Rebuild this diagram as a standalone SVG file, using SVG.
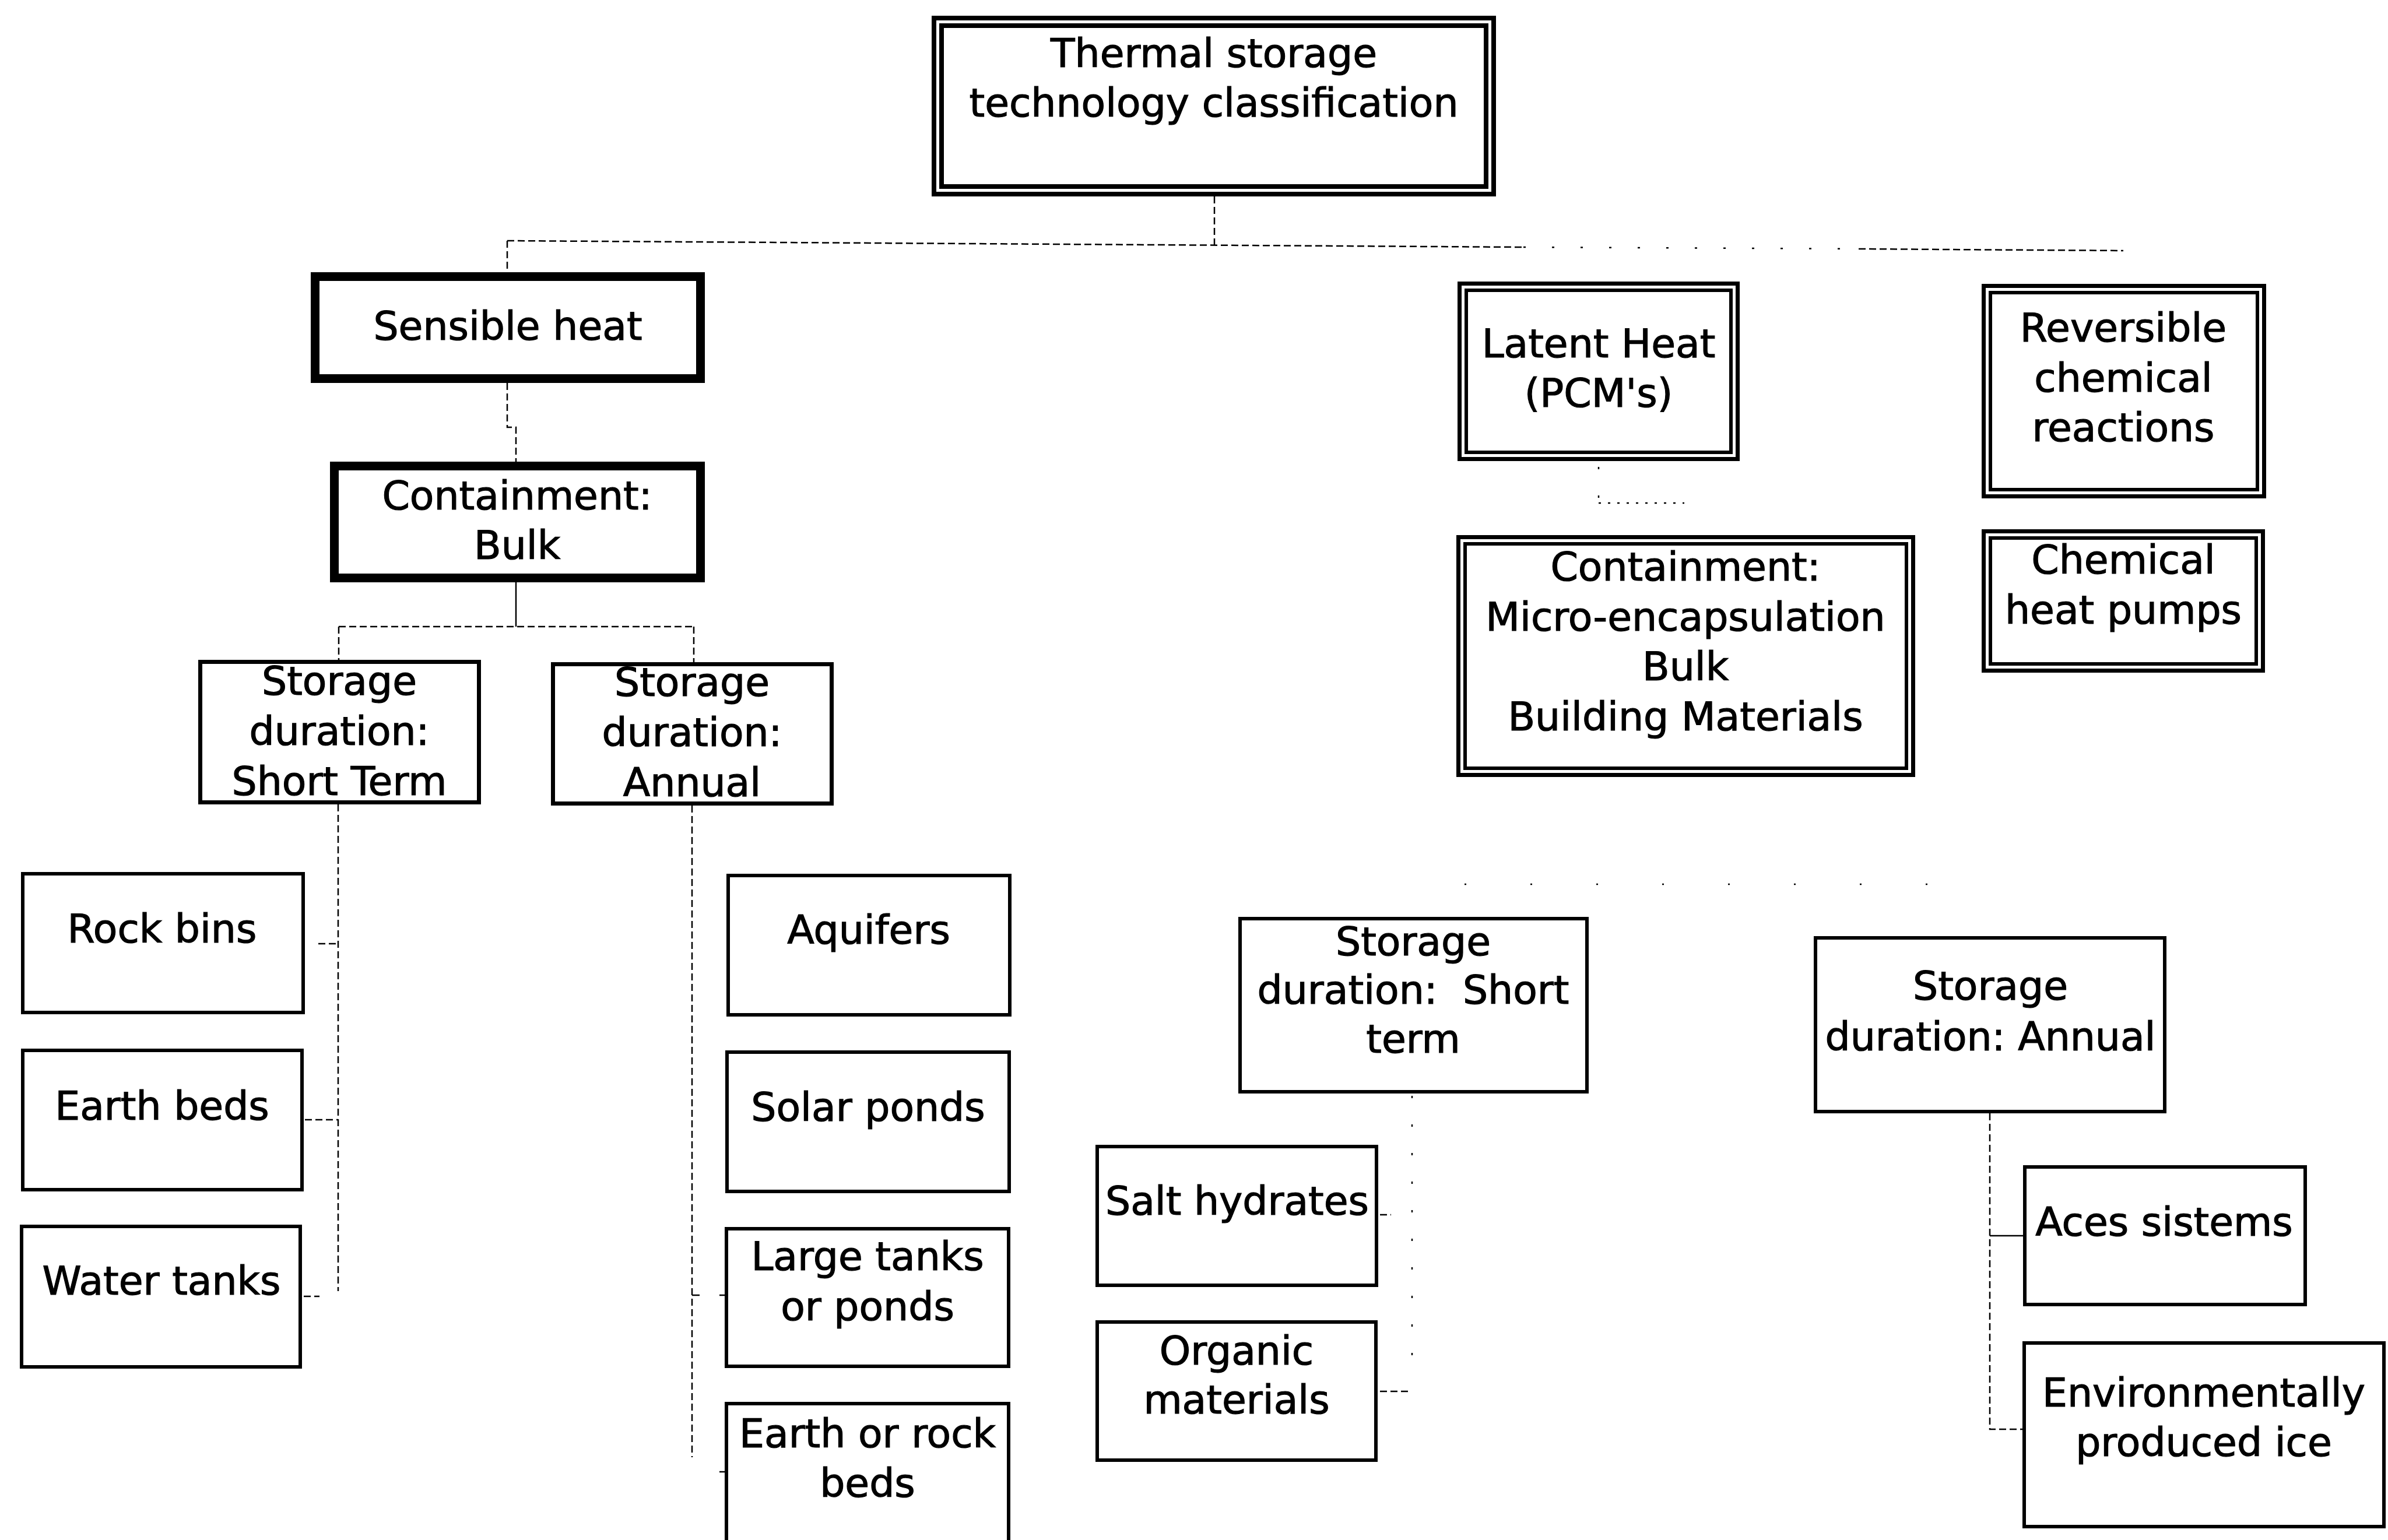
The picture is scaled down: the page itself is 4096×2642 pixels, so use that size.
<svg xmlns="http://www.w3.org/2000/svg" width="4096" height="2642" viewBox="0 0 4096 2642">
<style>
  .bg { fill: #ffffff; }
  .box { fill: none; stroke: #000; stroke-width: 6; }
  .sd { fill: none; stroke: #000; stroke-width: 7; }
  .thick { fill: none; stroke: #000; stroke-width: 15; }
  .dbo { fill: none; stroke: #000; stroke-width: 7; }
  .dbi { fill: none; stroke: #000; stroke-width: 6; }
  .tbo { fill: none; stroke: #000; stroke-width: 8; }
  text { font-family: "DejaVu Sans", "Liberation Sans", sans-serif; font-size: 68px; text-anchor: middle; fill: #000; stroke: #000; stroke-width: 1.2; white-space: pre; }
  .c { fill: none; stroke: #000; stroke-width: 2.5; }
  .dash { stroke-dasharray: 12 6; }
  .dot { stroke-dasharray: 4 12; }
  .sparse { stroke-dasharray: 4 45; }
  .faint { stroke-dasharray: 3 110; }
  .solid { }
</style>
<rect class="bg" x="0" y="0" width="4096" height="2642"/>

<g id="connectors">
  <path class="c dash" d="M2083 337 L2083 420"/>
  <path class="c dash" d="M870 413 L2613 424"/>
  <path class="c sparse" d="M2613 424 L3188 427"/>
  <path class="c dash" d="M3188 427 L3642 430"/>
  <path class="c dash" d="M870 413 L870 467"/>
  <path class="c dash" d="M870 657 L870 733 L885 733 L885 792"/>
  <path class="c solid" d="M885 999 L885 1075"/>
  <path class="c dash" d="M581 1075 L1190 1075"/>
  <path class="c dash" d="M581 1075 L581 1132"/>
  <path class="c dash" d="M1190 1075 L1190 1136"/>
  <path class="c dash" d="M580 1380 L580 2215"/>
  <path class="c dash" d="M546 1619 L580 1619"/>
  <path class="c dash" d="M523 1921 L580 1921"/>
  <path class="c dash" d="M521 2224 L548 2224"/>
  <path class="c dash" d="M1187 1382 L1187 2500"/>
  <path class="c solid" d="M1187 2222 L1200 2222"/>
  <path class="c solid" d="M1234 2222 L1244 2222"/>
  <path class="c solid" d="M1234 2525 L1244 2525"/>
  <path class="c sparse" d="M2742 801 L2742 863"/>
  <path class="c dot" d="M2742 863 L2889 863"/>
  <path class="c faint" d="M2512 1517 L3378 1517"/>
  <path class="c sparse" d="M2422 1880 L2422 2340"/>
  <path class="c dash" d="M2367 2084 L2386 2084"/>
  <path class="c dash" d="M2367 2387 L2416 2387"/>
  <path class="c dash" d="M3413 1910 L3413 2452 L3469 2452"/>
  <path class="c solid" d="M3413 2120 L3470 2120"/>
</g>

<g id="n-top">
  <rect class="tbo" x="1602" y="31" width="960" height="302"/>
  <rect class="tbo" x="1615" y="44" width="934" height="276"/>
  <text x="2082" y="115">Thermal storage</text>
  <text x="2082" y="200">technology classification</text>
</g>

<g id="n-sensible">
  <rect class="thick" x="540.5" y="474.5" width="661" height="175"/>
  <text x="871" y="583">Sensible heat</text>
</g>

<g id="n-containment-bulk">
  <rect class="thick" x="573.5" y="799.5" width="628" height="192"/>
  <text x="887" y="874">Containment:</text>
  <text x="887" y="959">Bulk</text>
</g>

<g id="n-sens-short">
  <rect class="sd" x="343.5" y="1135.5" width="478" height="241"/>
  <text x="582" y="1192">Storage</text>
  <text x="582" y="1278">duration:</text>
  <text x="582" y="1364">Short Term</text>
</g>

<g id="n-sens-annual">
  <rect class="sd" x="948.5" y="1139.5" width="478" height="239"/>
  <text x="1187" y="1194">Storage</text>
  <text x="1187" y="1280">duration:</text>
  <text x="1187" y="1366">Annual</text>
</g>

<g id="n-rock-bins">
  <rect class="box" x="39" y="1499" width="481" height="238"/>
  <text x="278" y="1617">Rock bins</text>
</g>
<g id="n-earth-beds">
  <rect class="box" x="39" y="1802" width="479" height="239"/>
  <text x="278" y="1921">Earth beds</text>
</g>
<g id="n-water-tanks">
  <rect class="box" x="37" y="2104" width="478" height="241"/>
  <text x="277" y="2221">Water tanks</text>
</g>

<g id="n-aquifers">
  <rect class="box" x="1249" y="1502" width="483" height="239"/>
  <text x="1490" y="1619">Aquifers</text>
</g>
<g id="n-solar-ponds">
  <rect class="box" x="1247" y="1805" width="484" height="239"/>
  <text x="1489" y="1923">Solar ponds</text>
</g>
<g id="n-large-tanks">
  <rect class="box" x="1246" y="2108" width="484" height="236"/>
  <text x="1488" y="2179">Large tanks</text>
  <text x="1488" y="2265">or ponds</text>
</g>
<g id="n-earth-rock-beds">
  <rect class="box" x="1246" y="2408" width="484" height="320"/>
  <text x="1488" y="2483">Earth or rock</text>
  <text x="1488" y="2568">beds</text>
</g>

<g id="n-latent">
  <rect class="dbo" x="2503.5" y="486.5" width="477" height="301"/>
  <rect class="dbi" x="2515" y="498" width="454" height="278"/>
  <text x="2742" y="613">Latent Heat</text>
  <text x="2742" y="698">(PCM's)</text>
</g>

<g id="n-reversible">
  <rect class="dbo" x="3402.5" y="490.5" width="481" height="361"/>
  <rect class="dbi" x="3414" y="502" width="458" height="338"/>
  <text x="3642" y="586">Reversible</text>
  <text x="3642" y="672">chemical</text>
  <text x="3642" y="757">reactions</text>
</g>

<g id="n-chem-heat-pumps">
  <rect class="dbo" x="3402.5" y="911.5" width="479" height="239"/>
  <rect class="dbi" x="3414" y="923" width="456" height="216"/>
  <text x="3642" y="984">Chemical</text>
  <text x="3642" y="1070">heat pumps</text>
</g>

<g id="n-containment-pcm">
  <rect class="dbo" x="2501.5" y="921.5" width="780" height="408"/>
  <rect class="dbi" x="2513" y="933" width="757" height="385"/>
  <text x="2891" y="996">Containment:</text>
  <text x="2891" y="1082">Micro-encapsulation</text>
  <text x="2891" y="1167">Bulk</text>
  <text x="2891" y="1253">Building Materials</text>
</g>

<g id="n-pcm-short">
  <rect class="box" x="2127" y="1576" width="595" height="297"/>
  <text x="2424" y="1639">Storage</text>
  <text x="2424" y="1722">duration:  Short</text>
  <text x="2424" y="1806">term</text>
</g>

<g id="n-pcm-annual">
  <rect class="box" x="3114" y="1609" width="599" height="298"/>
  <text x="3414" y="1715">Storage</text>
  <text x="3414" y="1802">duration: Annual</text>
</g>

<g id="n-salt-hydrates">
  <rect class="box" x="1882" y="1967" width="479" height="238"/>
  <text x="2122" y="2084">Salt hydrates</text>
</g>
<g id="n-organic">
  <rect class="box" x="1882" y="2268" width="478" height="237"/>
  <text x="2121" y="2341">Organic</text>
  <text x="2121" y="2425">materials</text>
</g>

<g id="n-aces">
  <rect class="box" x="3473" y="2002" width="481" height="236"/>
  <text x="3712" y="2120">Aces sistems</text>
</g>
<g id="n-env-ice">
  <rect class="box" x="3472" y="2304" width="617" height="315"/>
  <text x="3780" y="2413">Environmentally</text>
  <text x="3780" y="2498">produced ice</text>
</g>
</svg>
